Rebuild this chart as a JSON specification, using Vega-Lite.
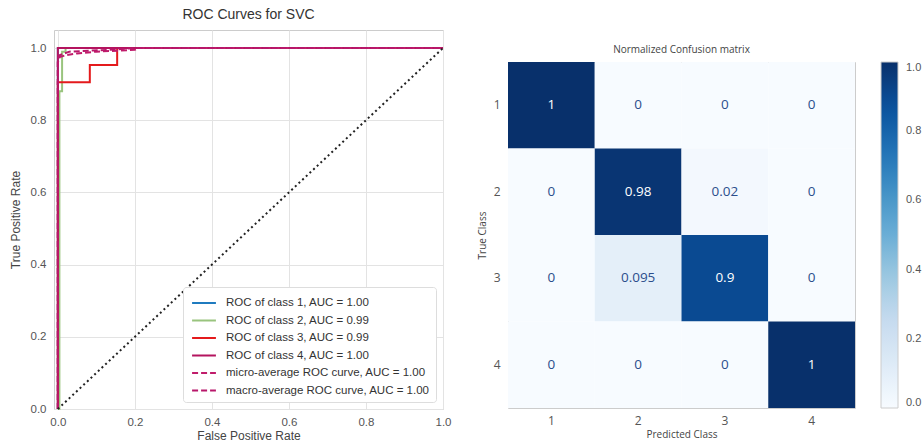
{
  "$schema": "https://vega.github.io/schema/vega-lite/v6.json",
  "background": "white",
  "padding": {"left": 8, "top": 7, "right": 2, "bottom": 2},
  "spacing": 24,
  "config": {
    "view": {"stroke": "#cccccc"},
    "font": "Liberation Sans"
  },
  "resolve": {
    "scale": {"color": "independent", "x": "independent", "y": "independent", "strokeDash": "independent"},
    "legend": {"color": "independent", "strokeDash": "independent"}
  },
  "hconcat": [
    {
      "width": 389,
      "height": 379,
      "title": {"text": "ROC Curves for SVC", "fontSize": 14, "fontWeight": "normal", "color": "#333333", "offset": 8},
      "layer": [
        {
          "data": {
            "values": [
              {"series": "ROC of class 1, AUC = 1.00", "i": 0, "fpr": 0, "tpr": 0},
              {"series": "ROC of class 1, AUC = 1.00", "i": 1, "fpr": 0, "tpr": 1},
              {"series": "ROC of class 1, AUC = 1.00", "i": 2, "fpr": 1, "tpr": 1},
              {"series": "ROC of class 2, AUC = 0.99", "i": 0, "fpr": 0, "tpr": 0},
              {"series": "ROC of class 2, AUC = 0.99", "i": 1, "fpr": 0.004, "tpr": 0},
              {"series": "ROC of class 2, AUC = 0.99", "i": 2, "fpr": 0.004, "tpr": 0.88},
              {"series": "ROC of class 2, AUC = 0.99", "i": 3, "fpr": 0.011, "tpr": 0.88},
              {"series": "ROC of class 2, AUC = 0.99", "i": 4, "fpr": 0.011, "tpr": 0.99},
              {"series": "ROC of class 2, AUC = 0.99", "i": 5, "fpr": 0.02, "tpr": 0.99},
              {"series": "ROC of class 2, AUC = 0.99", "i": 6, "fpr": 0.02, "tpr": 1},
              {"series": "ROC of class 2, AUC = 0.99", "i": 7, "fpr": 1, "tpr": 1},
              {"series": "ROC of class 3, AUC = 0.99", "i": 0, "fpr": 0, "tpr": 0},
              {"series": "ROC of class 3, AUC = 0.99", "i": 1, "fpr": 0, "tpr": 0.905},
              {"series": "ROC of class 3, AUC = 0.99", "i": 2, "fpr": 0.083, "tpr": 0.905},
              {"series": "ROC of class 3, AUC = 0.99", "i": 3, "fpr": 0.083, "tpr": 0.953},
              {"series": "ROC of class 3, AUC = 0.99", "i": 4, "fpr": 0.154, "tpr": 0.953},
              {"series": "ROC of class 3, AUC = 0.99", "i": 5, "fpr": 0.154, "tpr": 1},
              {"series": "ROC of class 3, AUC = 0.99", "i": 6, "fpr": 1, "tpr": 1},
              {"series": "ROC of class 4, AUC = 1.00", "i": 0, "fpr": 0, "tpr": 0},
              {"series": "ROC of class 4, AUC = 1.00", "i": 1, "fpr": 0, "tpr": 1},
              {"series": "ROC of class 4, AUC = 1.00", "i": 2, "fpr": 1, "tpr": 1},
              {"series": "micro-average ROC curve, AUC = 1.00", "i": 0, "fpr": 0, "tpr": 0},
              {"series": "micro-average ROC curve, AUC = 1.00", "i": 1, "fpr": 0, "tpr": 0.96},
              {"series": "micro-average ROC curve, AUC = 1.00", "i": 2, "fpr": 0.005, "tpr": 0.975},
              {"series": "micro-average ROC curve, AUC = 1.00", "i": 3, "fpr": 0.02, "tpr": 0.98},
              {"series": "micro-average ROC curve, AUC = 1.00", "i": 4, "fpr": 0.05, "tpr": 0.985},
              {"series": "micro-average ROC curve, AUC = 1.00", "i": 5, "fpr": 0.1, "tpr": 0.99},
              {"series": "micro-average ROC curve, AUC = 1.00", "i": 6, "fpr": 0.2, "tpr": 0.995},
              {"series": "micro-average ROC curve, AUC = 1.00", "i": 7, "fpr": 0.21, "tpr": 1},
              {"series": "micro-average ROC curve, AUC = 1.00", "i": 8, "fpr": 1, "tpr": 1},
              {"series": "macro-average ROC curve, AUC = 1.00", "i": 0, "fpr": 0, "tpr": 0},
              {"series": "macro-average ROC curve, AUC = 1.00", "i": 1, "fpr": 0, "tpr": 0.97},
              {"series": "macro-average ROC curve, AUC = 1.00", "i": 2, "fpr": 0.004, "tpr": 0.98},
              {"series": "macro-average ROC curve, AUC = 1.00", "i": 3, "fpr": 0.03, "tpr": 0.99},
              {"series": "macro-average ROC curve, AUC = 1.00", "i": 4, "fpr": 0.09, "tpr": 0.993},
              {"series": "macro-average ROC curve, AUC = 1.00", "i": 5, "fpr": 0.15, "tpr": 0.996},
              {"series": "macro-average ROC curve, AUC = 1.00", "i": 6, "fpr": 0.2, "tpr": 1},
              {"series": "macro-average ROC curve, AUC = 1.00", "i": 7, "fpr": 1, "tpr": 1}
            ]
          },
          "mark": {"type": "line", "strokeWidth": 2},
          "encoding": {
            "x": {
              "field": "fpr", "type": "quantitative",
              "scale": {"domain": [-0.01, 1], "nice": false, "zero": false},
              "axis": {"values": [0, 0.2, 0.4, 0.6, 0.8, 1], "format": ".1f", "title": "False Positive Rate",
                "grid": true, "gridColor": "#e3e3e3", "ticks": false, "domain": false, "labelFlush": false,
                "labelPadding": 7, "labelFontSize": 11.5, "labelColor": "#555555",
                "titleFontSize": 12, "titleFontWeight": "normal", "titleColor": "#444444", "titlePadding": 3}
            },
            "y": {
              "field": "tpr", "type": "quantitative",
              "scale": {"domain": [0, 1.05], "nice": false},
              "axis": {"values": [0, 0.2, 0.4, 0.6, 0.8, 1], "format": ".1f", "title": "True Positive Rate",
                "grid": true, "gridColor": "#e3e3e3", "ticks": false, "domain": false, "labelFlush": false,
                "labelPadding": 8, "labelFontSize": 11.5, "labelColor": "#555555",
                "titleFontSize": 12, "titleFontWeight": "normal", "titleColor": "#444444", "titlePadding": 8}
            },
            "color": {
              "field": "series", "type": "nominal",
              "scale": {
                "domain": ["ROC of class 1, AUC = 1.00", "ROC of class 2, AUC = 0.99", "ROC of class 3, AUC = 0.99", "ROC of class 4, AUC = 1.00", "micro-average ROC curve, AUC = 1.00", "macro-average ROC curve, AUC = 1.00"],
                "range": ["#1f7bbf", "#99c47e", "#e41a1c", "#b4145f", "#c01c6b", "#b8176a"]
              },
              "legend": {
                "title": null, "orient": "bottom-right", "offset": 7,
                "symbolType": "M-1.4,0L1.4,0", "symbolStrokeWidth": 2, "symbolSize": 290, "symbolOffset": 5,
                "labelFontSize": 11.5, "labelColor": "#333333", "labelOffset": 12, "labelLimit": 400,
                "fillColor": "white", "strokeColor": "#dddddd", "padding": 6, "rowPadding": 1.5, "cornerRadius": 3
              }
            },
            "strokeDash": {
              "field": "series", "type": "nominal",
              "scale": {
                "domain": ["ROC of class 1, AUC = 1.00", "ROC of class 2, AUC = 0.99", "ROC of class 3, AUC = 0.99", "ROC of class 4, AUC = 1.00", "micro-average ROC curve, AUC = 1.00", "macro-average ROC curve, AUC = 1.00"],
                "range": [[1, 0], [1, 0], [1, 0], [1, 0], [6, 3], [6, 3]]
              },
              "legend": null
            },
            "order": {"field": "i", "type": "quantitative"}
          }
        },
        {
          "data": {"values": [{"fpr": 0, "tpr": 0}, {"fpr": 1, "tpr": 1}]},
          "mark": {"type": "line", "color": "#222222", "strokeDash": [2, 3], "strokeWidth": 2},
          "encoding": {
            "x": {"field": "fpr", "type": "quantitative"},
            "y": {"field": "tpr", "type": "quantitative"}
          }
        }
      ]
    },
    {
      "spacing": 13,
      "resolve": {
        "scale": {"color": "independent"},
        "legend": {"color": "independent"}
      },
      "vconcat": [
        {
          "width": 347,
          "height": 1,
          "view": {"stroke": null},
          "data": {"values": []},
          "mark": {"type": "point"},
          "encoding": {}
        },
        {
          "width": 347,
          "height": 346,
          "title": {"text": "Normalized Confusion matrix", "fontSize": 10, "fontWeight": "normal", "color": "#444444", "offset": 7, "font": "Open Sans"},
          "data": {
            "values": [
              {"true": 1, "pred": 1, "value": 1, "label": "1"},
              {"true": 1, "pred": 2, "value": 0, "label": "0"},
              {"true": 1, "pred": 3, "value": 0, "label": "0"},
              {"true": 1, "pred": 4, "value": 0, "label": "0"},
              {"true": 2, "pred": 1, "value": 0, "label": "0"},
              {"true": 2, "pred": 2, "value": 0.98, "label": "0.98"},
              {"true": 2, "pred": 3, "value": 0.02, "label": "0.02"},
              {"true": 2, "pred": 4, "value": 0, "label": "0"},
              {"true": 3, "pred": 1, "value": 0, "label": "0"},
              {"true": 3, "pred": 2, "value": 0.095, "label": "0.095"},
              {"true": 3, "pred": 3, "value": 0.9, "label": "0.9"},
              {"true": 3, "pred": 4, "value": 0, "label": "0"},
              {"true": 4, "pred": 1, "value": 0, "label": "0"},
              {"true": 4, "pred": 2, "value": 0, "label": "0"},
              {"true": 4, "pred": 3, "value": 0, "label": "0"},
              {"true": 4, "pred": 4, "value": 1, "label": "1"}
            ]
          },
          "encoding": {
            "x": {
              "field": "pred", "type": "ordinal",
              "scale": {"paddingInner": 0, "paddingOuter": 0},
              "axis": {"title": "Predicted Class", "labelAngle": 0, "ticks": false, "domain": false, "grid": false,
                "labelPadding": 7, "labelFontSize": 12, "labelColor": "#555555", "labelFont": "Open Sans",
                "titleFontSize": 10, "titleFontWeight": "normal", "titleColor": "#444444", "titleFont": "Open Sans", "titlePadding": 3}
            },
            "y": {
              "field": "true", "type": "ordinal",
              "scale": {"paddingInner": 0, "paddingOuter": 0},
              "axis": {"title": "True Class", "ticks": false, "domain": false, "grid": false,
                "labelPadding": 8, "labelFontSize": 12, "labelColor": "#555555", "labelFont": "Open Sans",
                "titleFontSize": 10, "titleFontWeight": "normal", "titleColor": "#444444", "titleFont": "Open Sans", "titlePadding": 6}
            }
          },
          "layer": [
            {
              "mark": {"type": "rect"},
              "encoding": {
                "color": {
                  "field": "value", "type": "quantitative",
                  "scale": {"domain": [0, 1], "range": ["#f7fbff", "#deebf7", "#c6dbef", "#9ecae1", "#6baed6", "#4292c6", "#2171b5", "#08519c", "#08306b"]},
                  "legend": {"title": null, "orient": "right", "offset": 26, "direction": "vertical",
                    "gradientLength": 346, "gradientThickness": 17, "gradientStrokeColor": "#cccccc", "gradientStrokeWidth": 1,
                    "values": [0, 0.2, 0.4, 0.6, 0.8, 1], "format": ".1f",
                    "labelFontSize": 11, "labelColor": "#555555", "labelOffset": 8, "labelBaseline": "middle", "labelFont": "Liberation Sans"}
                }
              }
            },
            {
              "mark": {"type": "text", "fontSize": 13.5, "font": "Open Sans"},
              "encoding": {
                "text": {"field": "label", "type": "nominal"},
                "color": {"condition": {"test": "datum.value > 0.5", "value": "white"}, "value": "#2b4e8c"}
              }
            }
          ]
        }
      ]
    }
  ]
}
